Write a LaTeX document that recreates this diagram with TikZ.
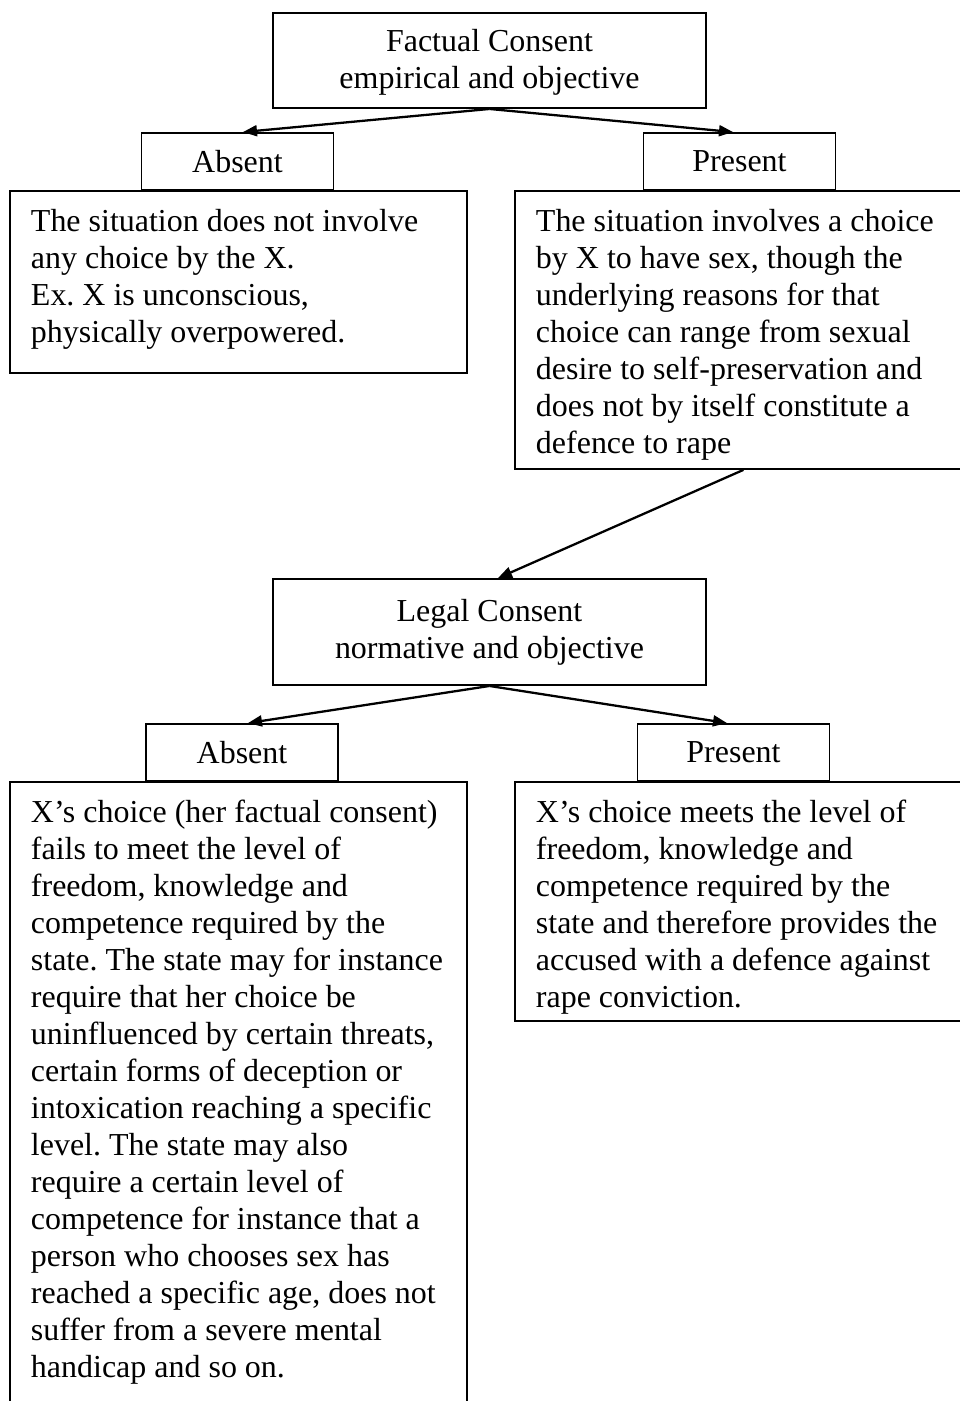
\documentclass[tikz,border=0pt]{standalone}
\usepackage{fontspec}
\setmainfont{Liberation Serif}
\usetikzlibrary{arrows.meta}
\frenchspacing

\begin{document}
\begin{tikzpicture}[x=0.02cm,y=-0.02cm,>={Triangle[length=2.8mm,width=2.2mm]},line width=1.1pt]
  \tikzstyle{every node}=[font=\fontsize{18.2pt}{21.05pt}\selectfont]
  \tikzstyle{head}=[draw,align=center,inner sep=0pt,minimum width=8.66cm,minimum height=1.9cm]
  \tikzstyle{tag}=[draw,inner sep=0pt,minimum width=3.84cm,minimum height=1.14cm]
  \tikzstyle{frame}=[draw,anchor=north west,inner sep=0pt,minimum width=9.14cm]
  \tikzstyle{body}=[anchor=north west,inner sep=0pt,align=left]
  \tikzstyle{link}=[->,line width=1.3pt]

  \useasboundingbox (0,0) rectangle (960,1401);
  \clip (0,0) rectangle (960,1401);

  % factual consent
  \node[head] (fc) at (489.5,60.5) {\strut Factual Consent\\empirical and objective};
  \node[frame, minimum height=3.64cm] (fabox) at (9,190) {};
  \node[frame, minimum height=5.56cm] (fpbox) at (514,190) {};
  \node[tag] (fa) at (237.5,161.5) {Absent};
  \node[tag] (fp) at (739.5,161.5) {Present};

  \node[body] (fatext) at ([shift={(21,15)}]fabox.north west) {\strut The situation does not involve\\any choice by the X.\\Ex. X is unconscious,\\physically overpowered.};
  \node[body] (fptext) at ([shift={(21,15)}]fpbox.north west) {\strut The situation involves a choice\\by X to have sex, though the\\underlying reasons for that\\choice can range from sexual\\desire to self-preservation and\\does not by itself constitute a\\defence to rape};

  % legal consent
  \node[head, minimum height=2.12cm] (lc) at (489.5,632) {Legal Consent\\normative and objective};
  \node[frame, minimum height=13cm] (labox) at (9,781) {};
  \node[frame, minimum height=4.78cm] (lpbox) at (514,781) {};
  \node[tag] (la) at (242,752.5) {Absent};
  \node[tag] (lp) at (733.5,752.5) {Present};

  \node[body] (latext) at ([shift={(21,15)}]labox.north west) {\strut X’s choice (her factual consent)\\fails to meet the level of\\freedom, knowledge and\\competence required by the\\state. The state may for instance\\require that her choice be\\uninfluenced by certain threats,\\certain forms of deception or\\intoxication reaching a specific\\level. The state may also\\require a certain level of\\competence for instance that a\\person who chooses sex has\\reached a specific age, does not\\suffer from a severe mental\\handicap and so on.};
  \node[body] (lptext) at ([shift={(21,15)}]lpbox.north west) {\strut X’s choice meets the level of\\freedom, knowledge and\\competence required by the\\state and therefore provides the\\accused with a defence against\\rape conviction.};

  % arrows
  \draw[link] (fc.south) -- ([xshift=1.1mm]fa.north);
  \draw[link] (fc.south) -- ([xshift=-1.3mm]fp.north);
  \draw[link] (fpbox.south) -- ([xshift=1.7mm]lc.north);
  \draw[link] (lc.south) -- ([xshift=1.2mm]la.north);
  \draw[link] (lc.south) -- ([xshift=-1.3mm]lp.north);
\end{tikzpicture}
\end{document}
